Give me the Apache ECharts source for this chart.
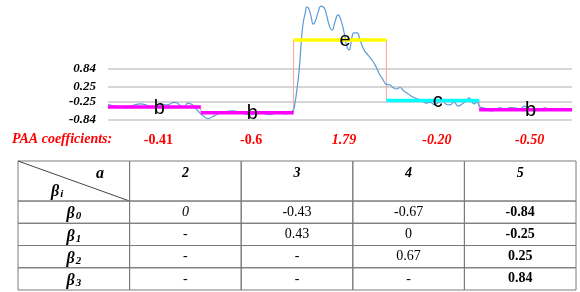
<!DOCTYPE html>
<html>
<head>
<meta charset="utf-8">
<script src="https://cdn.jsdelivr.net/npm/echarts@6/dist/echarts.min.js"></script>
<style>
html,body{margin:0;padding:0;background:#fff}
#main{width:580px;height:292px}
</style>
</head>
<body>
<div id="main"></div>
<script>
// time series
var tsX = [0,0.9,1.5,2.6,4.1,5.0,5.8,6.9,8.0,9.1,10.1,11.2,12.3,13.4,14.2,14.9,15.7,16.4,17.2,17.9,18.5,19.4,20.5,21.6,22.4,23.7,25.2,26.9,28.4,29.5,30.6,31.7,33.2,34.9,36.2,37.1,38.1,39.0,39.9,40.3,40.7,41.2,41.6,42.0,42.5,42.9,43.3,43.8,44.2,44.6,45.3,45.9,46.6,47.2,47.8,48.3,48.9,49.6,50.2,50.9,51.5,52.0,52.4,53.0,53.7,54.3,55.2,56.0,56.9,57.8,58.6,59.3,59.9,60.8,61.6,62.3,62.9,63.8,64.7,65.7,66.8,67.7,68.5,69.4,70.3,71.1,72.0,72.8,73.7,74.6,75.4,76.3,77.2,77.8,78.2,78.9,79.5,80.2,81.0,81.9,82.8,83.6,84.5,85.6,86.6,87.7,88.8,89.7,90.5,91.4,92.2,93.1,94.2,95.3,96.3,97.4,98.5,99.8];
var tsY = [-0.32,-0.36,-0.38,-0.41,-0.44,-0.38,-0.34,-0.31,-0.33,-0.41,-0.38,-0.31,-0.34,-0.31,-0.26,-0.28,-0.38,-0.41,-0.28,-0.31,-0.38,-0.54,-0.70,-0.79,-0.74,-0.64,-0.57,-0.54,-0.59,-0.64,-0.67,-0.64,-0.62,-0.66,-0.61,-0.57,-0.64,-0.61,-0.51,-0.28,0.15,0.80,1.62,2.28,2.67,2.87,2.80,2.54,2.31,2.38,2.70,2.90,2.84,2.54,2.21,2.11,2.38,2.61,2.44,2.02,1.56,1.46,1.72,2.02,2.02,1.79,1.46,1.30,1.13,0.90,0.64,0.48,0.34,0.31,0.21,0.18,0.23,0.11,0.02,-0.08,-0.15,-0.21,-0.28,-0.25,-0.33,-0.28,-0.21,-0.31,-0.34,-0.25,-0.38,-0.31,-0.21,-0.11,-0.18,-0.31,-0.25,-0.41,-0.44,-0.51,-0.54,-0.48,-0.44,-0.48,-0.43,-0.44,-0.48,-0.38,-0.44,-0.51,-0.48,-0.52,-0.44,-0.49,-0.46,-0.51,-0.48,-0.54];

var gridVals = [0.84, 0.25, -0.25, -0.84];

// PAA segments
var segStart = [0, 20, 40, 60, 80];
var segEnd = [20, 40, 60, 80, 100];
var paaVals = [-0.41, -0.6, 1.79, -0.20, -0.50];
var paaText = ['-0.41', '-0.6', '1.79', '-0.20', '-0.50'];
var paaItalic = [false, false, true, true, true];
var symbols = ['b', 'b', 'e', 'c', 'b'];
var symColors = ['#ff00ff', '#ff00ff', '#ffff00', '#00ffff', '#ff00ff'];

// table
var colHeads = ['2', '3', '4', '5'];
var rowHeads = ['0', '1', '2', '3'];
var tableVals = [
  ['0', '-0.43', '-0.67', '-0.84'],
  ['-', '0.43', '0', '-0.25'],
  ['-', '-', '0.67', '0.25'],
  ['-', '-', '-', '0.84']
];
var rowEdges = [0, 1.8, 2.8, 3.8, 4.8, 5.8];

var chart = echarts.init(document.getElementById('main'));
var serif = '"Liberation Serif", "Times New Roman", serif';

var stepData = [];
for (var i = 0; i < paaVals.length; i++) stepData.push([segStart[i], paaVals[i]]);
stepData.push([segEnd[segEnd.length - 1], paaVals[paaVals.length - 1]]);

var tsData = tsX.map(function (x, i) { return [x, tsY[i]]; });

var cells = [];
for (var r = 0; r < rowEdges.length - 1; r++) {
  for (var c = 0; c < 5; c++) cells.push([c, r]);
}

var betaRich = {
  b: { fontFamily: serif, fontWeight: 'bold', fontStyle: 'italic', fontSize: 16, lineHeight: 20, verticalAlign: 'bottom' },
  s: { fontFamily: serif, fontWeight: 'bold', fontStyle: 'italic', fontSize: 11, lineHeight: 20, verticalAlign: 'bottom', padding: [3, 0, 0, 1] }
};

function renderSeg(params, api) {
  var i = params.dataIndex;
  var p0 = api.coord([segStart[i], paaVals[i]]);
  var p1 = api.coord([segEnd[i], paaVals[i]]);
  var base = api.coord([segStart[i], -1]);
  var mid = (p0[0] + p1[0]) / 2;
  return {
    type: 'group',
    children: [
      { type: 'line', shape: { x1: p0[0], y1: p0[1], x2: p1[0], y2: p1[1] },
        style: { stroke: symColors[i], lineWidth: 3.5 } },
      { type: 'text', z2: 10, style: { text: symbols[i], x: mid + 5, y: p0[1] + 1, align: 'center', verticalAlign: 'middle',
        font: '20px "Liberation Sans", Arial, sans-serif', fill: '#000' } },
      { type: 'text', style: { text: paaText[i], x: mid + 4, y: base[1] + 15, align: 'center', verticalAlign: 'middle',
        font: (paaItalic[i] ? 'italic ' : '') + 'bold 14px ' + serif, fill: '#ff0000' } }
    ]
  };
}

function renderCell(params, api) {
  var c = api.value(0), r = api.value(1);
  var tl = api.coord([c, rowEdges[r]]);
  var br = api.coord([c + 1, rowEdges[r + 1]]);
  var w = br[0] - tl[0], h = br[1] - tl[1];
  var cx = tl[0] + w / 2, cy = tl[1] + h / 2;
  var kids = [{ type: 'rect', shape: { x: tl[0], y: tl[1], width: w, height: h },
    style: { fill: 'none', stroke: '#7a7a7a', lineWidth: 1 } }];
  if (r === 0 && c === 0) {
    kids.push({ type: 'line', shape: { x1: tl[0], y1: tl[1], x2: br[0], y2: br[1] }, style: { stroke: '#444', lineWidth: 1 } });
    kids.push({ type: 'text', style: { text: 'a', x: tl[0] + 82, y: tl[1] + 13, align: 'center', verticalAlign: 'middle',
      font: 'italic bold 16px ' + serif, fill: '#000' } });
    kids.push({ type: 'text', style: { text: '{b|β}{s|i}', rich: betaRich, x: tl[0] + 33, y: tl[1] + 29, align: 'left', verticalAlign: 'middle' } });
  } else if (r === 0) {
    kids.push({ type: 'text', style: { text: colHeads[c - 1], x: cx, y: tl[1] + 12, align: 'center', verticalAlign: 'middle',
      font: 'italic bold 14px ' + serif, fill: '#000' } });
  } else if (c === 0) {
    kids.push({ type: 'text', style: { text: '{b|β}{s|' + rowHeads[r - 1] + '}', rich: betaRich, x: cx, y: cy, align: 'center', verticalAlign: 'middle' } });
  } else {
    var v = tableVals[r - 1][c - 1];
    var f = (c === 4 ? 'bold ' : (c === 1 && v !== '-' ? 'italic ' : '')) + '14px ' + serif;
    kids.push({ type: 'text', style: { text: v, x: cx, y: cy, align: 'center', verticalAlign: 'middle', font: f, fill: '#000' } });
  }
  return { type: 'group', children: kids };
}

var option = {
  backgroundColor: '#fff',
  animation: false,
  grid: [
    { left: 108, right: 8, top: 3, height: 122 },
    { left: 18, right: 4, top: 161, height: 129 }
  ],
  xAxis: [
    { type: 'value', gridIndex: 0, min: 0, max: 100, show: false },
    { type: 'value', gridIndex: 1, min: 0, max: 5, show: false }
  ],
  yAxis: [
    { type: 'value', gridIndex: 0, min: -1, max: 3, show: false },
    { type: 'value', gridIndex: 1, min: 0, max: 5.8, inverse: true, show: false }
  ],
  graphic: [
    { type: 'text', left: 12, top: 132, style: { text: 'PAA coefficients:', fill: '#ff0000', font: 'italic bold 14px ' + serif } }
  ],
  series: [
    {
      type: 'line', xAxisIndex: 0, yAxisIndex: 0, z: 1,
      data: stepData, step: 'end', showSymbol: false, silent: true,
      lineStyle: { color: '#f5a3a3', width: 1 }
    },
    {
      type: 'line', xAxisIndex: 0, yAxisIndex: 0, z: 2,
      data: tsData, smooth: 0.5, showSymbol: false, silent: true,
      lineStyle: { color: '#5b9bd5', width: 1.2 },
      markLine: {
        silent: true, symbol: ['none', 'none'], z: 0,
        lineStyle: { color: '#c8c8c8', width: 1.5, type: 'solid' },
        label: { show: true, position: 'start', distance: 12, color: '#000',
          fontFamily: serif, fontStyle: 'italic', fontWeight: 'bold', fontSize: 13,
          formatter: function (p) { return p.value.toFixed(2); } },
        data: gridVals.map(function (v) { return { yAxis: v }; })
      }
    },
    {
      type: 'custom', xAxisIndex: 0, yAxisIndex: 0, z: 3,
      data: paaVals.map(function (v, i) { return [segStart[i], v]; }),
      renderItem: renderSeg, silent: true
    },
    {
      type: 'custom', xAxisIndex: 1, yAxisIndex: 1,
      data: cells, renderItem: renderCell, silent: true
    }
  ]
};

chart.setOption(option);
window.onresize = function () { chart.resize(); };
</script>
</body>
</html>
